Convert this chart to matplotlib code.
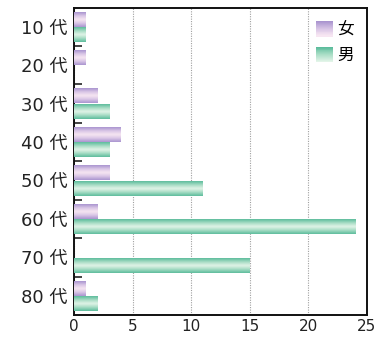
import numpy as np
import matplotlib
matplotlib.use("Agg")
import matplotlib.pyplot as plt
from matplotlib.colors import LinearSegmentedColormap
from matplotlib.legend_handler import HandlerBase
from matplotlib.patches import Rectangle

# wide latin digits from DejaVu, kanji from Noto CJK
plt.rcParams["font.family"] = ["DejaVu Sans", "Noto Sans CJK JP"]

ages = ["10 代", "20 代", "30 代", "40 代", "50 代", "60 代", "70 代", "80 代"]
female = [1, 1, 2, 4, 3, 2, 0, 1]
male = [1, 0, 3, 3, 11, 24, 15, 2]
series_labels = ["女", "男"]
x_ticks = [0, 5, 10, 15, 20, 25]

# edge colour -> highlight in the middle -> edge colour
FEMALE_CMAP = LinearSegmentedColormap.from_list(
    "female", ["#a994cf", "#d9c6e6", "#f7e6f2", "#d9c6e6", "#a994cf"])
MALE_CMAP = LinearSegmentedColormap.from_list(
    "male", ["#5cbc9c", "#a6dcc4", "#e2f4e8", "#a6dcc4", "#5cbc9c"])
GRAD = np.linspace(0, 1, 64).reshape(-1, 1)


def shade_bars(ax, bars, cmap):
    for p in bars:
        x0, y0 = p.get_x(), p.get_y()
        w, h = p.get_width(), p.get_height()
        if w <= 0:
            continue
        im = ax.imshow(GRAD, cmap=cmap, aspect="auto", interpolation="bicubic",
                       extent=(x0, x0 + w, y0 + h, y0), zorder=3)
        im.set_clip_path(p)


class GradientHandler(HandlerBase):
    """Legend key filled with the top half of the bar gradient."""

    def __init__(self, cmap):
        super().__init__()
        self.cmap = cmap

    def create_artists(self, legend, orig_handle, xdescent, ydescent,
                       width, height, fontsize, trans):
        n = 16
        arts = []
        for i in range(n):
            c = self.cmap(0.5 * i / (n - 1))
            r = Rectangle((-xdescent, -ydescent + height * (n - 1 - i) / n),
                          width, height / n + 0.3, facecolor=c, edgecolor="none",
                          transform=trans)
            arts.append(r)
        return arts


fig = plt.figure(figsize=(3.87, 3.38), dpi=100)
ax = fig.add_axes([74 / 387, 1 - 315 / 338, (367 - 74) / 387, (315 - 7.5) / 338])

pos = np.arange(len(ages))
bh = 0.39
fb = ax.barh(pos - 0.2, female, height=bh, facecolor="none", edgecolor="none", zorder=3)
mb = ax.barh(pos + 0.2, male, height=bh, facecolor="none", edgecolor="none", zorder=3)
shade_bars(ax, fb, FEMALE_CMAP)
shade_bars(ax, mb, MALE_CMAP)

ax.set_xlim(0, 25)
ax.set_ylim(len(ages) - 0.5, -0.5)
ax.set_xticks(x_ticks)
ax.set_yticks(pos)
ax.set_yticklabels(ages, fontsize=13)
ax.set_yticks(pos[:-1] + 0.5, minor=True)
ax.tick_params(axis="y", which="major", length=0, pad=4.5, colors="#222222")
ax.tick_params(axis="y", which="minor", direction="in", length=6, width=1.2, color="#222222")
ax.tick_params(axis="x", length=0, pad=3, labelsize=11, colors="#222222")

ax.grid(axis="x", color="#a0a0a0", linestyle=(0, (1, 1.2)), linewidth=0.8, zorder=1)
ax.set_axisbelow(True)
for s in ax.spines.values():
    s.set_linewidth(1.4)
    s.set_color("#111111")

h_f = Rectangle((0, 0), 1, 1)
h_m = Rectangle((0, 0), 1, 1)
ax.legend([h_f, h_m], series_labels, loc="upper right", frameon=False,
          fontsize=12, handlelength=1.0, handleheight=1.0, handletextpad=0.25,
          labelspacing=0.45, borderaxespad=0.4, bbox_to_anchor=(1.0, 1.0),
          handler_map={h_f: GradientHandler(FEMALE_CMAP),
                       h_m: GradientHandler(MALE_CMAP)})

fig.savefig("out.png", dpi=100)
